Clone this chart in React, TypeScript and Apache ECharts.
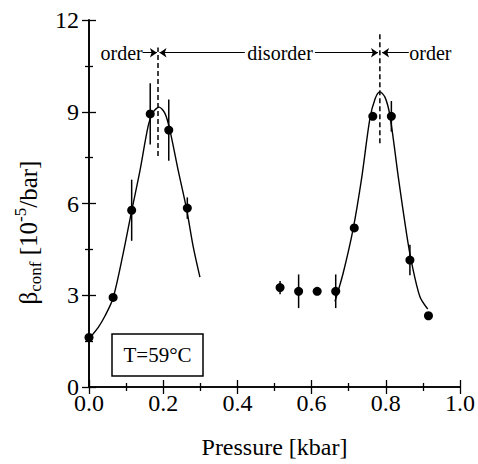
import React, { useEffect, useRef } from "react";
import * as echarts from "echarts";

const pressure = [0.0, 0.065, 0.115, 0.165, 0.215, 0.265, 0.515, 0.565, 0.615, 0.665, 0.715, 0.765, 0.815, 0.865, 0.915];
const beta = [1.62, 2.93, 5.78, 8.93, 8.4, 5.85, 3.25, 3.13, 3.13, 3.13, 5.2, 8.85, 8.85, 4.15, 2.33];
const betaErr = [0, 0, 1.0, 1.0, 1.0, 0.35, 0.22, 0.55, 0, 0.55, 0, 0, 0.5, 0.5, 0];

const fitLeftX = [0.003, 0.025, 0.043, 0.065, 0.092, 0.115, 0.137, 0.16, 0.173, 0.189, 0.205, 0.218, 0.241, 0.263, 0.281, 0.299];
const fitLeftY = [1.62, 1.95, 2.32, 2.91, 4.36, 5.76, 7.05, 8.56, 8.99, 9.15, 8.94, 8.4, 7.05, 5.82, 4.58, 3.59];
const fitRightX = [0.663, 0.685, 0.712, 0.735, 0.757, 0.771, 0.784, 0.798, 0.811, 0.834, 0.856, 0.87, 0.892, 0.913];
const fitRightY = [2.8, 3.72, 5.17, 6.84, 8.77, 9.42, 9.65, 9.47, 8.88, 6.84, 5.01, 4.04, 2.95, 2.55];

const transitionX = [0.186, 0.784];
const transitionLow = [7.55, 7.97];
const transitionHigh = [11.1, 11.58];

const annotationY = 10.93;
const annotationX = [0.088, 0.515, 0.92];
const annotationText = ["order", "disorder", "order"];
const arrowFrom = [0.138, 0.42, 0.609, 0.862];
const arrowTo = [0.183, 0.19, 0.779, 0.79];

const FONT = "Liberation Serif";

export default function App() {
  const ref = useRef<HTMLDivElement>(null);
  useEffect(() => {
    if (!ref.current) return;
    const chart = echarts.init(ref.current, undefined, { renderer: "svg" });
    const axisLine = { show: true, lineStyle: { color: "#000", width: 1.6 } };
    const tick = { show: true, inside: true, length: 7, lineStyle: { color: "#000", width: 1.3 } };
    const minor = { show: true, splitNumber: 2, length: 4, lineStyle: { color: "#000", width: 1.3 } };
    const errData = pressure
      .map((x, i) => [x, beta[i] - betaErr[i], beta[i] + betaErr[i]])
      .filter((_, i) => betaErr[i] > 0);
    chart.setOption({
      animation: false,
      grid: { left: 89, right: 18, top: 20, bottom: 72 },
      xAxis: [
        {
          type: "value", min: 0, max: 1, interval: 0.2,
          axisLine, axisTick: tick, minorTick: minor, splitLine: { show: false },
          axisLabel: { color: "#000", fontFamily: FONT, fontSize: 24, lineHeight: 16, margin: 8, formatter: (v: number) => v.toFixed(1) },
          name: "Pressure [kbar]", nameLocation: "middle", nameGap: 48,
          nameTextStyle: { color: "#000", fontFamily: FONT, fontSize: 24 },
        },
        {
          type: "value", position: "top", min: 0, max: 1, interval: 0.2,
          axisLine, axisTick: tick, minorTick: minor, splitLine: { show: false }, axisLabel: { show: false },
        },
      ],
      yAxis: [
        {
          type: "value", min: 0, max: 12, interval: 3,
          axisLine, axisTick: tick, minorTick: minor, splitLine: { show: false },
          axisLabel: { color: "#000", fontFamily: FONT, fontSize: 24, lineHeight: 14, margin: 10 },
          name: "{m|β}{sub|conf}{m| [10}{sup|-5}{m|/bar]}",
          nameLocation: "middle", nameGap: 42,
          nameTextStyle: {
            color: "#000", fontFamily: FONT, fontSize: 24,
            padding: [0, 58, 0, 0],
            rich: {
              m: { fontFamily: FONT, fontSize: 25, lineHeight: 32, color: "#000", verticalAlign: "middle" },
              sub: { fontFamily: FONT, fontSize: 17, lineHeight: 17, color: "#000", verticalAlign: "bottom" },
              sup: { fontFamily: FONT, fontSize: 17, lineHeight: 17, color: "#000", verticalAlign: "top" },
            },
          },
        },
        {
          type: "value", position: "right", min: 0, max: 12, interval: 3,
          axisLine, axisTick: tick, minorTick: minor, splitLine: { show: false }, axisLabel: { show: false },
        },
      ],
      series: [
        {
          type: "line", data: fitLeftX.map((x, i) => [x, fitLeftY[i]]), showSymbol: false, smooth: 0.3,
          lineStyle: { color: "#000", width: 1.4 }, silent: true,
        },
        {
          type: "line", data: fitRightX.map((x, i) => [x, fitRightY[i]]), showSymbol: false, smooth: 0.3,
          lineStyle: { color: "#000", width: 1.4 }, silent: true,
        },
        {
          type: "custom", data: errData, encode: { x: 0, y: [1, 2] },
          renderItem: (params: any, api: any) => {
            const p1 = api.coord([api.value(0), api.value(1)]);
            const p2 = api.coord([api.value(0), api.value(2)]);
            return { type: "line", shape: { x1: p1[0], y1: p1[1], x2: p2[0], y2: p2[1] }, style: { stroke: "#000", lineWidth: 1.5 } };
          },
        },
        {
          type: "scatter", data: pressure.map((x, i) => [x, beta[i]]), symbolSize: 9,
          itemStyle: { color: "#000", opacity: 1 },
        },
        ...transitionX.map((x, i) => ({
          type: "line", data: [[x, transitionLow[i]], [x, transitionHigh[i]]], showSymbol: false,
          lineStyle: { color: "#000", width: 1.5, type: [5, 3] },
        })),
        {
          type: "lines", coordinateSystem: "cartesian2d",
          symbol: ["none", "arrow"], symbolSize: 7,
          lineStyle: { color: "#000", width: 1.1, opacity: 1 },
          data: arrowFrom.map((x, i) => ({ coords: [[x, annotationY], [arrowTo[i], annotationY]] })),
        },
        {
          type: "custom",
          data: annotationX.map((x, i) => [x, annotationY, i]),
          encode: { x: 0, y: 1 },
          renderItem: (params: any, api: any) => {
            const p = api.coord([api.value(0), api.value(1)]);
            return {
              type: "text", x: p[0], y: p[1],
              style: { text: annotationText[api.value(2)], fontFamily: FONT, fontSize: 20, fill: "#000", align: "center", verticalAlign: "middle", backgroundColor: "#fff" },
            };
          },
        },
      ],
      graphic: [
        { type: "rect", shape: { x: 112, y: 334, width: 91, height: 42 }, style: { fill: "#fff", stroke: "#000", lineWidth: 1.5 } },
        { type: "text", x: 157.5, y: 355, style: { text: "T=59°C", fontFamily: FONT, fontSize: 21, fill: "#000", align: "center", verticalAlign: "middle" } },
      ],
    });
    return () => chart.dispose();
  }, []);
  return <div ref={ref} style={{ width: 478, height: 464, position: "absolute", left: 0, top: 0 }} />;
}
